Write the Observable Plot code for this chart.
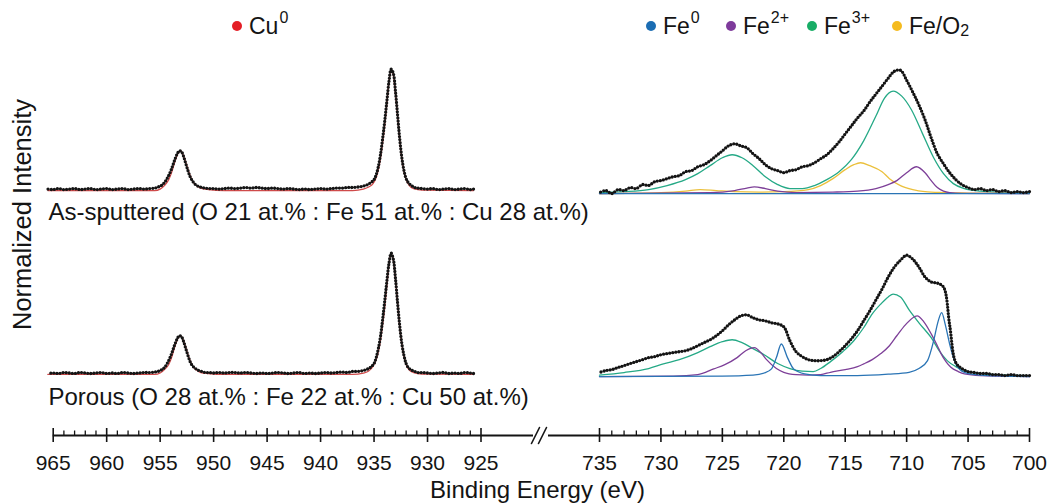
<!DOCTYPE html>
<html>
<head>
<meta charset="utf-8">
<script src="https://cdn.jsdelivr.net/npm/d3@7"></script>
<script src="https://cdn.jsdelivr.net/npm/@observablehq/plot@0.6"></script>
<style>
  html, body { margin: 0; padding: 0; background: #fff; }
  #wrap { position: relative; width: 1048px; height: 504px; overflow: hidden;
          font-family: 'Liberation Sans', Arial, Helvetica, sans-serif; color: #141414; }
  #chart svg { position: absolute; left: 0; top: 0; }
  .leg { position: absolute; top: 11px; height: 30px; display: flex; align-items: center;
         font-size: 23px; white-space: nowrap; z-index: 2; }
  .leg .dot { display: inline-block; width: 10px; height: 10px; border-radius: 50%; margin-right: 7px; }
  .leg sup { font-size: 16px; position: relative; top: -8px; vertical-align: baseline; margin-left: 1px; }
  .leg sub { font-size: 16px; position: relative; top: 5px; vertical-align: baseline; }
</style>
</head>
<body>
<div id="wrap"><div id="chart"></div></div>
<script>
// ---------------- DATA ----------------
// Cu 2p region: binding energies (eV) and normalized intensities
const cuEnergy = [965.5,965,964.5,964,963.5,963,962.5,962,961.5,961,960.5,960,959.5,959,958.5,958,957.5,957,956.5,956,
  955.5,955.2,954.9,954.6,954.3,954.0,953.8,953.6,953.4,953.2,953.0,952.8,952.6,952.4,952.2,952.0,951.7,951.4,951.1,950.8,
  950.4,950,949.5,949,948.5,948,947.5,947,946.5,946,945.5,945,944.5,944,943.5,943,942.5,942,941.5,941,
  940.5,940,939.5,939,938.5,938,937.5,937,936.5,936,935.6,935.3,935.0,934.8,934.6,934.4,934.2,934.0,933.8,933.6,
  933.4,933.2,933.0,932.8,932.6,932.4,932.2,932.0,931.8,931.5,931.2,930.9,930.5,930,929.5,929,928.5,928,927.5,927,926.5,926,925.7];
const cuSputtered = [.012,.008,.016,.008,.012,.016,.008,.012,.016,.008,.012,.016,.008,.012,.016,.008,.012,.016,.012,.016,
  .020,.029,.041,.066,.107,.164,.213,.262,.303,.328,
  .320,.279,.221,.164,.115,.082,.049,.033,.025,.020,
  .016,.016,.012,.016,.020,.016,.020,.025,.020,.025,
  .020,.016,.020,.016,.012,.016,.012,.008,.012,.008,
  .012,.016,.012,.016,.020,.020,.025,.025,.029,.037,
  .049,.066,.090,.131,.197,.295,.426,.574,.738,.902,
  1,.967,.820,.623,.426,.270,.164,.098,.066,.041,
  .025,.020,.016,.012,.016,.008,.012,.016,.008,.012,.016,.008,.012];
const cuPorous = [.008,.012,.008,.016,.012,.008,.016,.012,.008,.012,.016,.008,.012,.008,.016,.012,.008,.012,.016,.016,
  .020,.025,.037,.057,.098,.156,.205,.254,.295,.320,
  .311,.270,.213,.156,.107,.074,.049,.033,.025,.016,
  .016,.012,.016,.012,.016,.016,.012,.016,.012,.008,
  .012,.008,.012,.016,.012,.008,.012,.016,.008,.012,
  .008,.012,.016,.012,.016,.020,.016,.025,.025,.033,
  .045,.061,.090,.139,.213,.311,.451,.607,.770,.918,
  1,.951,.795,.590,.402,.254,.156,.090,.057,.037,
  .025,.016,.016,.012,.008,.012,.016,.008,.012,.008,.016,.012,.008];
// Cu0 fitted envelope
const cuFitEnergy = [965.5,955.5,955,954.6,954.2,953.9,953.6,953.3,953.1,952.9,952.6,952.3,952,951.6,951.2,950.5,949,937,936,935.5,
  935.1,934.8,934.5,934.2,934,933.8,933.6,933.4,933.2,933,932.8,932.6,932.4,932.2,932,931.7,931.3,930.5,925.7];
const cuFitSputtered = [0,0,.012,.041,.090,.156,.246,.311,.328,.303,.230,.148,.082,.041,.020,.008,0,0,.012,.029,
  .057,.107,.213,.393,.541,.721,.902,.992,.951,.803,.615,.418,.262,.156,.090,.041,.016,.004,0];
const cuFitPorous = [0,0,.012,.041,.082,.148,.238,.303,.320,.295,.221,.139,.074,.037,.016,.008,0,0,.012,.029,
  .066,.123,.230,.410,.557,.738,.910,.992,.943,.787,.590,.393,.246,.148,.082,.037,.016,.004,0];

// Fe 2p region: measured spectra
const feEnergy = [735,734.5,734,733.5,733,732.5,732,731.5,731,730.5,730,729.5,729,728.5,728,727.5,727,726.5,726,725.5,
  725,724.5,724,723.5,723,722.5,722,721.5,721,720.5,720,719.5,719,718.5,718,717.5,717,716.5,716,715.5,
  715,714.5,714,713.5,713,712.5,712,711.5,711,710.5,710,709.5,709,708.5,708,707.5,707,706.5,706,705.5,
  705,704.5,704,703.5,703,702.5,702,701.5,701,700.5,700];
const feSputtered = [.008,.025,0,.033,.025,.049,.041,.074,.066,.098,.107,.123,.139,.148,.180,.189,.221,.238,.270,.311,
  .352,.393,.410,.393,.377,.328,.287,.238,.205,.189,.172,.189,.197,.221,.230,.254,.287,.320,.369,.426,
  .492,.557,.623,.680,.754,.820,.885,.951,1.008,1.016,.934,.836,.730,.607,.459,.328,.246,.172,.115,.074,
  .049,.033,.041,.025,.033,.016,.025,.008,.016,.008,.016];
const fePorous = [.033,.049,.057,.074,.090,.107,.123,.139,.156,.164,.180,.189,.197,.205,.213,.230,.254,.279,.303,.336,
  .377,.426,.467,.500,.508,.484,.467,.459,.443,.434,.410,.295,.205,.164,.139,.131,.131,.139,.164,.205,
  .254,.311,.377,.459,.541,.631,.721,.820,.902,.959,1.0,.967,.902,.820,.779,.770,.738,.426,.115,.066,
  .041,.033,.025,.025,.016,.016,.008,.016,.008,.008,.008];

// Fe fitted components, as-sputtered
const fe3SputE = [735,733,731,729.5,728,727,726,725,724.2,723.4,722.5,721.5,720.5,719.5,718.5,717.5,716.5,715.5,714.5,713.5,
  712.5,711.8,711.1,710.4,709.6,708.7,707.8,707,706.2,705.3,704,702.5,700];
const fe3SputV = [.008,.016,.033,.066,.115,.164,.230,.295,.320,.295,.230,.139,.074,.041,.041,.066,.115,.180,.279,.434,
  .639,.787,.844,.803,.689,.492,.295,.164,.082,.041,.020,.012,.008];
const feO2SputE = [735,730,728,726.8,725.5,724,722,720,718,717,716,715,714.3,713.75,713,712,711.4,710.5,709.5,708.5,707,705,700];
const feO2SputV = [0,.008,.020,.033,.025,.016,.012,.016,.033,.066,.123,.197,.238,.254,.230,.180,.123,.066,.033,.016,.008,.004,0];
const fe2SputE = [735,726,724,723,722.4,721.5,720.5,719,716,714,712.5,711.5,710.8,710,709.2,708.5,708,707.5,707,706.5,705.5,700];
const fe2SputV = [0,.008,.025,.045,.055,.041,.020,.008,.012,.020,.041,.074,.107,.172,.221,.172,.107,.049,.020,.008,.002,0];
const fe0SputE = [735,700];
const fe0SputV = [0,0];

// Fe fitted components, porous
const fe3PorE = [735,733,731,729.8,728.5,727,726,725,724.2,723.4,722.5,721.6,720.5,719.5,718.5,717.6,717,716.2,715.2,714.3,
  713.5,712.8,712.1,711.5,711.1,710.5,709.8,709,708,707.3,706.7,706,705.3,704,702,700];
const fe3PorV = [.012,.033,.066,.104,.139,.197,.246,.287,.303,.279,.230,.180,.107,.066,.045,.041,.066,.123,.205,.295,
  .402,.516,.598,.656,.680,.656,.549,.443,.320,.205,.131,.082,.049,.025,.012,.008];
const fe2PorE = [735,729,727,725.7,724.8,723.8,723.1,722.4,721.8,721.4,720.6,720,719,718,717,716.2,715,714,713.5,712.8,
  712.1,711.4,710.8,710.1,709.15,708.6,708,707.5,707.2,706.8,706.4,705.8,705.3,704,700];
const fe2PorV = [0,.004,.016,.063,.098,.156,.213,.238,.189,.139,.066,.035,.016,.012,.016,.035,.057,.082,.104,.139,
  .189,.254,.336,.426,.500,.451,.352,.254,.189,.123,.076,.041,.022,.008,0];
const fe0PorE = [735,725,722.5,721.6,721,720.6,720.2,719.7,719.2,718.3,717,714,711.5,709.8,709,708.3,707.8,707.45,707.15,706.85,
  706.5,706,705.3,704,702,700];
const fe0PorV = [0,.004,.012,.029,.063,.156,.268,.156,.063,.022,.008,.008,.020,.035,.066,.131,.295,.451,.527,.426,
  .268,.104,.035,.012,.004,0];

// Axis ticks
const majorTicks = [965,960,955,950,945,940,935,930,925,735,730,725,720,715,710,705,700];
const minorTicks = [964,963,962,961,959,958,957,956,954,953,952,951,949,948,947,946,944,943,942,941,939,938,937,936,
  934,933,932,931,929,928,927,926,734,733,732,731,729,728,727,726,724,723,722,721,719,718,717,716,714,713,712,711,
  709,708,707,706,704,703,702,701];

// Texts
const sampleLabels = ["As-sputtered (O 21 at.% : Fe 51 at.% : Cu 28 at.%)", "Porous (O 28 at.% : Fe 22 at.% : Cu 50 at.%)"];
const xTitle = "Binding Energy (eV)";
const yTitle = "Normalized Intensity";
const legendItems = [
  {base: "Cu", sup: "0", sub: "", color: "#e41e26"},
  {base: "Fe", sup: "0", sub: "", color: "#1b6db3"},
  {base: "Fe", sup: "2+", sub: "", color: "#7e3b9b"},
  {base: "Fe", sup: "3+", sub: "", color: "#18ad66"},
  {base: "Fe/O", sup: "", sub: "2", color: "#f5bb1f"}
];
const colors = {cu: "#cf4a4a", fe0: "#2a74b5", fe2: "#7d3f98", fe3: "#25a986", feO2: "#ebc03c", data: "#141414"};

// ---------------- LAYOUT ----------------
const FONT = "'Liberation Sans', Arial, Helvetica, sans-serif";
const X_DOMAIN = [965, 925, 735, 700];          // broken axis: two segments
const X_RANGE = [52.7, 480.5, 599, 1029];
const Y_DOMAIN = [-0.5, 1];
const Y_RANGE = [435, 253];
const px = d3.scaleLinear(X_DOMAIN, X_RANGE);  // same mapping as Plot's x, for decorations
const py = d3.scaleLinear(Y_DOMAIN, Y_RANGE);
const OFF = {cuTop: 1.519, feTop: 1.494, cuBot: 0.003, feBot: -0.014};
const LEGEND_LEFT = [232, 646, 726, 807, 892];

function series(E, V, off) {
  if (E.length !== V.length) throw new Error("length mismatch " + E.length + " vs " + V.length);
  return E.map((e, i) => ({e, v: V[i] + off})).sort((a, b) => a.e - b.e);
}

const dataStyle = {x: "e", y: "v", stroke: colors.data, strokeWidth: 3.3, strokeLinecap: "round",
                   strokeDasharray: "0 3.1", curve: "catmull-rom"};
const fit = (c) => ({x: "e", y: "v", stroke: c, strokeWidth: 1.3, curve: "monotone-x"});
const slash = (x0) => [{e: px.invert(x0), v: py.invert(443)}, {e: px.invert(x0 + 8), v: py.invert(427)}];

const chart = Plot.plot({
  width: 1048, height: 504,
  marginTop: 0, marginRight: 0, marginBottom: 504 - Y_RANGE[0], marginLeft: 0,
  style: {fontFamily: FONT, fontSize: "21px", color: "#141414", background: "transparent", overflow: "visible"},
  x: {type: "linear", domain: X_DOMAIN, range: X_RANGE, axis: null, label: null},
  y: {type: "linear", domain: Y_DOMAIN, range: Y_RANGE, axis: null, label: null},
  marks: [
    // Cu fits
    Plot.line(series(cuFitEnergy, cuFitSputtered, OFF.cuTop), fit(colors.cu)),
    Plot.line(series(cuFitEnergy, cuFitPorous, OFF.cuBot), fit(colors.cu)),
    // Fe fits as-sputtered
    Plot.line(series(fe3SputE, fe3SputV, OFF.feTop), fit(colors.fe3)),
    Plot.line(series(feO2SputE, feO2SputV, OFF.feTop), fit(colors.feO2)),
    Plot.line(series(fe2SputE, fe2SputV, OFF.feTop), fit(colors.fe2)),
    Plot.line(series(fe0SputE, fe0SputV, OFF.feTop), fit(colors.fe0)),
    // Fe fits porous
    Plot.line(series(fe3PorE, fe3PorV, OFF.feBot), fit(colors.fe3)),
    Plot.line(series(fe2PorE, fe2PorV, OFF.feBot), fit(colors.fe2)),
    Plot.line(series(fe0PorE, fe0PorV, OFF.feBot), fit(colors.fe0)),
    // measured data (dotted)
    Plot.line(series(cuEnergy, cuSputtered, OFF.cuTop), dataStyle),
    Plot.line(series(cuEnergy, cuPorous, OFF.cuBot), dataStyle),
    Plot.line(series(feEnergy, feSputtered, OFF.feTop), dataStyle),
    Plot.line(series(feEnergy, fePorous, OFF.feBot), dataStyle),
    // sample labels
    Plot.text([sampleLabels[0]], {x: px.invert(48), y: py.invert(211.5), textAnchor: "start", lineAnchor: "middle",
      fontSize: 24, fill: "#141414", fontFamily: FONT}),
    Plot.text([sampleLabels[1]], {x: px.invert(48), y: py.invert(397), textAnchor: "start", lineAnchor: "middle",
      fontSize: 24, fill: "#141414", fontFamily: FONT}),
    // broken x axis
    Plot.ruleY([Y_DOMAIN[0]], {x1: 965, x2: px.invert(533), stroke: "#141414", strokeWidth: 1.8}),
    Plot.ruleY([Y_DOMAIN[0]], {x1: px.invert(548), x2: 700, stroke: "#141414", strokeWidth: 1.8}),
    Plot.line(slash(531), {x: "e", y: "v", stroke: "#141414", strokeWidth: 1.6}),
    Plot.line(slash(538), {x: "e", y: "v", stroke: "#141414", strokeWidth: 1.6}),
    Plot.axisX(majorTicks, {anchor: "bottom", tickSize: 7, tickPadding: 13, fontSize: 21, label: null,
      tickFormat: d => String(d), strokeWidth: 1.6}),
    Plot.axisX(majorTicks, {anchor: "bottom", tickSize: -7, fill: "none", tickFormat: () => "", label: null, strokeWidth: 1.6}),
    Plot.axisX(minorTicks, {anchor: "bottom", tickSize: -4.5, fill: "none", tickFormat: () => "", label: null, strokeWidth: 1.3}),
    // titles
    Plot.text([xTitle], {x: px.invert(537), y: py.invert(489.5), textAnchor: "middle", lineAnchor: "middle",
      fontSize: 24, fill: "#141414", fontFamily: FONT}),
    Plot.text([yTitle], {x: px.invert(22), y: py.invert(214), rotate: -90, textAnchor: "middle", lineAnchor: "middle",
      fontSize: 25.5, fill: "#141414", fontFamily: FONT})
  ]
});
document.getElementById("chart").appendChild(chart);

// legend (HTML, above the plot area)
const wrap = document.getElementById("wrap");
legendItems.forEach((it, i) => {
  const d = document.createElement("div");
  d.className = "leg";
  d.style.left = LEGEND_LEFT[i] + "px";
  d.innerHTML = `<span class="dot" style="background:${it.color}"></span>${it.base}` +
    (it.sup ? `<sup>${it.sup}</sup>` : "") + (it.sub ? `<sub>${it.sub}</sub>` : "");
  wrap.appendChild(d);
});
</script>
</body>
</html>
